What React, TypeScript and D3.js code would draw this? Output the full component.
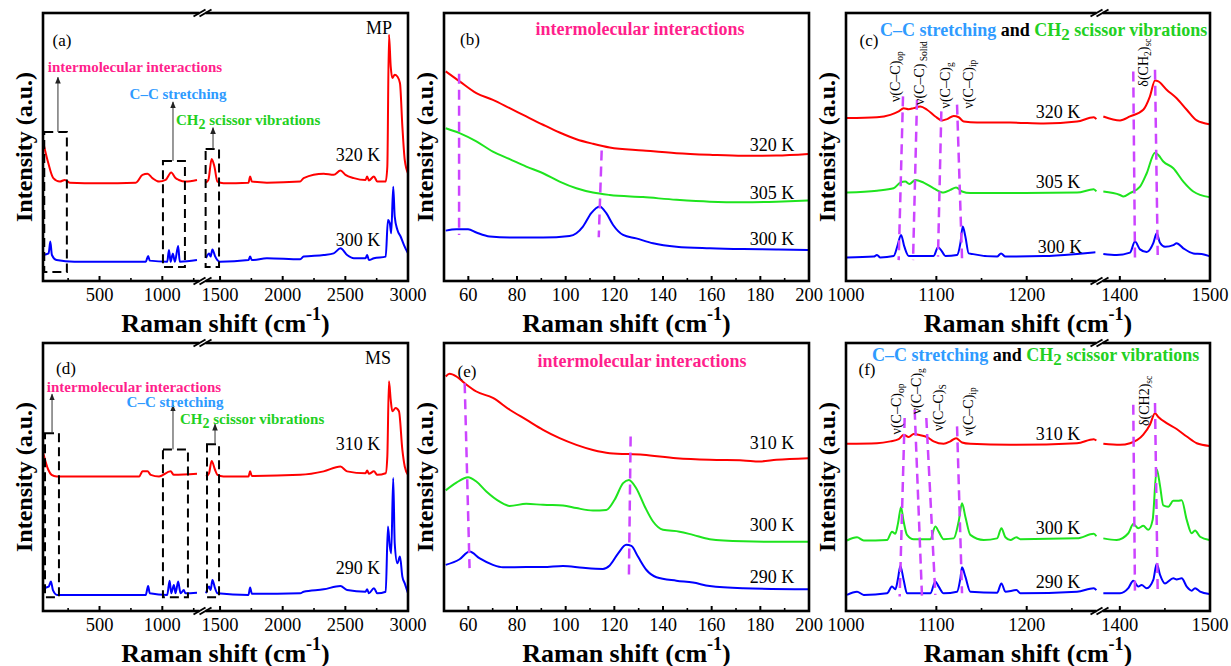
import React from "react";
import * as d3 from "d3";

type P = [number, number];

// ---------------- colours ----------------
const RED = "#ff0000";
const GREEN = "#1ee41e";
const BLUE = "#0000ff";
const MAG = "#cc44ff";
const PINK = "#ff1f8c";
const SKY = "#2f9bff";
const LIME = "#22d022";
const FONT = '"Liberation Serif", "Times New Roman", Tinos, "DejaVu Serif", serif';

// ---------------- ticks ----------------
const surveyMajor = [500, 1000, 1500, 2000, 2500, 3000];
const surveyMinor = [250, 750, 1250, 1750, 2250, 2750];
const lowMajor = [60, 80, 100, 120, 140, 160, 180, 200];
const lowMinor = [70, 90, 110, 130, 150, 170, 190];
const ccMajor = [1000, 1100, 1200, 1400, 1500];
const ccMinor = [1050, 1150, 1250, 1450];

// ---------------- series labels ----------------
const mpTemps = ["320 K", "305 K", "300 K"];
const msTemps = ["310 K", "300 K", "290 K"];

// ---------------- (a) MP survey ----------------
const mpSurvey320: P[] = [
  [50, 52.1], [92, 44.0], [132, 38.4], [184, 37.1], [224, 37.7], [263, 36.7], [500, 36.5], [789, 36.7],
  [842, 39.6], [882, 40.0], [921, 38.4], [974, 37.1], [1026, 37.7], [1071, 40.5], [1105, 38.4], [1132, 37.7],
  [1184, 37.1], [1276, 37.7],
  [1388, 36.7], [1407, 37.7], [1433, 45.5], [1455, 42.7], [1479, 37.1], [1527, 36.5], [1727, 36.7], [1740, 39.0],
  [1754, 37.1], [1874, 36.7], [2140, 37.1], [2167, 38.4], [2327, 40.0], [2407, 39.6], [2461, 41.2], [2501, 39.6],
  [2568, 38.4], [2661, 37.7], [2674, 39.0], [2688, 37.5], [2728, 39.0], [2755, 37.1], [2822, 37.1], [2835, 42.7],
  [2848, 91.9], [2862, 80.1], [2875, 75.7], [2894, 77.0], [2915, 76.3], [2936, 73.8], [2955, 57.7], [2974, 45.2],
  [3000, 40.2],
];
const mpSurvey300: P[] = [
  [50, 9.7], [95, 10.3], [108, 14.7], [121, 9.7], [158, 7.8], [300, 7.2], [500, 7.2], [868, 7.2], [887, 9.3],
  [900, 7.6], [1039, 7.2], [1053, 11.6], [1066, 7.2], [1084, 10.3], [1100, 7.2], [1126, 13.1], [1139, 7.2],
  [1276, 7.8],
  [1388, 8.5], [1412, 10.3], [1425, 9.1], [1439, 11.8], [1460, 9.3], [1479, 7.8], [1500, 7.2], [1727, 7.8],
  [1740, 9.1], [1754, 7.8], [1874, 8.5], [2140, 8.1], [2167, 9.1], [2327, 9.7], [2407, 10.3], [2461, 12.2],
  [2514, 9.7], [2568, 8.5], [2661, 8.5], [2674, 9.7], [2688, 7.8], [2728, 8.5], [2822, 9.1], [2840, 22.8],
  [2855, 21.5], [2866, 17.8], [2882, 35.2], [2894, 24.0], [2915, 19.1], [2941, 16.6], [2968, 13.4], [3000, 10.3],
];

// ---------------- (d) MS survey ----------------
const msSurvey310: P[] = [
  [50, 59.2], [92, 52.7], [118, 50.8], [158, 50.2], [500, 50.2], [816, 50.2], [842, 52.1], [882, 52.1],
  [908, 50.8], [974, 50.2], [1066, 52.1], [1092, 50.8], [1276, 51.2],
  [1388, 50.2], [1412, 51.4], [1433, 56.0], [1460, 52.7], [1479, 50.8], [1527, 50.2], [1727, 50.2], [1740, 52.1],
  [1754, 50.4], [2140, 50.8], [2327, 52.1], [2461, 53.9], [2514, 52.1], [2661, 51.4], [2674, 52.4], [2688, 51.2],
  [2728, 52.1], [2755, 50.8], [2822, 51.4], [2835, 57.7], [2848, 85.7], [2862, 78.8], [2875, 74.5], [2901, 75.7],
  [2928, 74.5], [2955, 60.1], [2974, 53.9], [3000, 50.8],
];
const msSurvey290: P[] = [
  [50, 8.5], [95, 9.1], [113, 11.0], [129, 7.8], [163, 6.0], [500, 6.0], [868, 6.0], [887, 9.3], [900, 6.6],
  [1039, 6.0], [1058, 11.3], [1071, 6.6], [1092, 9.7], [1105, 6.6], [1126, 11.0], [1145, 6.6], [1171, 7.8],
  [1184, 6.6], [1276, 6.8],
  [1388, 6.6], [1412, 9.1], [1425, 7.8], [1439, 11.6], [1460, 8.5], [1479, 6.6], [1727, 6.0], [1740, 8.8],
  [1754, 6.4], [2140, 6.6], [2167, 7.2], [2327, 8.1], [2461, 9.3], [2514, 7.8], [2661, 7.2], [2674, 8.1],
  [2688, 6.6], [2728, 8.5], [2755, 6.6], [2822, 7.2], [2840, 31.5], [2855, 24.0], [2866, 21.5], [2882, 49.6],
  [2894, 25.3], [2915, 17.8], [2936, 20.3], [2955, 12.8], [2974, 10.3], [3000, 6.6],
];

// ---------------- (b) MP low frequency ----------------
const mpLow320: P[] = [
  [50.7, 78.2], [56.4, 74.5], [63.3, 70.1], [70.1, 67.6], [77.0, 64.5], [83.8, 61.4], [90.7, 58.3], [97.5, 55.4],
  [104.4, 52.9], [111.2, 51.2], [118.1, 49.8], [131.8, 48.7], [145.5, 47.7], [159.2, 47.1], [172.9, 46.7],
  [186.6, 46.8], [199.6, 47.4],
];
const mpLow305: P[] = [
  [50.7, 57.0], [56.4, 55.2], [63.3, 52.1], [70.1, 48.3], [77.0, 45.5], [83.8, 42.7], [90.7, 40.2], [97.5, 37.1],
  [104.4, 34.6], [111.2, 33.0], [118.1, 32.1], [131.8, 31.3], [145.5, 30.3], [159.2, 29.6], [172.9, 29.4],
  [186.6, 29.6], [199.6, 30.0],
];
const mpLow300: P[] = [
  [50.7, 18.8], [55.1, 19.3], [59.9, 19.3], [63.3, 18.1], [68.8, 16.6], [77.0, 16.2], [90.7, 16.2], [101.6, 16.8],
  [104.4, 17.8], [107.1, 20.3], [110.5, 25.3], [114.0, 27.8], [116.7, 25.3], [119.5, 20.9], [123.6, 17.2],
  [129.0, 15.9], [135.9, 14.1], [145.5, 12.8], [159.2, 12.2], [172.9, 11.9], [186.6, 11.8], [199.6, 11.6],
];

// ---------------- (e) MS low frequency ----------------
const msLow310: P[] = [
  [50.7, 87.5], [52.3, 88.5], [55.1, 87.5], [58.5, 85.0], [63.3, 81.9], [70.1, 79.5], [77.0, 75.1], [83.8, 71.4],
  [90.7, 67.6], [97.5, 64.5], [104.4, 62.0], [111.2, 60.1], [118.1, 58.9], [131.8, 58.3], [145.5, 57.0],
  [159.2, 56.4], [172.9, 56.2], [179.7, 55.8], [186.6, 56.4], [199.6, 57.0],
];
const msLow300: P[] = [
  [50.7, 45.0], [55.1, 47.9], [59.9, 49.9], [63.3, 48.3], [67.4, 44.6], [72.9, 40.8], [77.0, 39.2], [83.8, 40.0],
  [90.7, 39.6], [98.9, 39.4], [104.4, 38.4], [111.2, 37.5], [116.7, 37.7], [120.1, 41.5], [123.6, 47.7],
  [126.0, 48.9], [129.0, 45.8], [132.5, 39.0], [135.9, 33.4], [140.0, 30.3], [146.8, 29.6], [152.3, 28.4],
  [159.2, 26.8], [172.9, 26.0], [186.6, 25.8], [199.6, 25.8],
];
const msLow290: P[] = [
  [50.7, 17.2], [56.4, 19.3], [60.5, 22.2], [64.7, 19.6], [70.1, 17.2], [74.2, 16.3], [83.8, 16.4], [90.7, 16.4],
  [98.9, 16.8], [107.1, 16.1], [115.3, 15.7], [118.1, 17.0], [121.5, 21.4], [124.9, 24.7], [127.0, 24.3],
  [129.7, 20.3], [133.2, 15.3], [137.3, 12.6], [145.5, 11.3], [152.3, 10.6], [159.2, 9.3], [172.9, 8.5],
  [199.6, 8.1],
];

// ---------------- (c) MP C–C / CH2 region ----------------
const mpCC320: P[] = [
  [1001.1, 60.8], [1034.3, 61.1], [1049.1, 62.0], [1058.3, 63.3], [1063.8, 64.5], [1069.4, 64.1], [1074.9, 64.5],
  [1082.3, 65.1], [1089.7, 63.9], [1098.9, 61.4], [1106.3, 59.9], [1111.8, 60.4], [1119.2, 61.6], [1124.7, 61.1],
  [1130.3, 59.5], [1145.0, 59.1], [1181.9, 59.1], [1218.8, 58.8], [1255.7, 59.5], [1274.2, 61.1], [1277.1, 60.4],
  [1381.7, 61.4], [1400.2, 59.9], [1411.3, 61.4], [1426.0, 63.9], [1433.4, 68.9], [1439.0, 74.8], [1442.7, 74.5],
  [1451.9, 71.4], [1463.0, 68.2], [1474.2, 63.9], [1485.3, 59.9], [1499.3, 58.5],
];
const mpCC305: P[] = [
  [1001.1, 33.0], [1034.3, 33.7], [1052.7, 34.6], [1060.1, 36.7], [1065.6, 37.1], [1070.1, 36.2], [1076.7, 37.7],
  [1085.9, 36.7], [1097.0, 34.6], [1108.1, 33.0], [1115.5, 34.0], [1121.8, 34.9], [1128.4, 33.4], [1137.6, 32.8],
  [1181.9, 32.8], [1255.7, 33.0], [1274.2, 34.2], [1277.1, 33.4],
  [1381.7, 33.4], [1400.2, 32.1], [1403.9, 31.5], [1411.3, 32.8], [1422.4, 35.2], [1429.8, 40.2], [1439.0, 47.9],
  [1442.7, 47.0], [1448.2, 44.6], [1459.3, 42.1], [1470.4, 37.1], [1481.5, 33.4], [1499.3, 31.3],
];
const mpCC300: P[] = [
  [1001.1, 8.8], [1030.6, 9.1], [1034.3, 9.7], [1038.0, 8.8], [1052.7, 9.3], [1057.2, 13.4], [1060.9, 17.2],
  [1064.6, 12.8], [1069.4, 9.3], [1097.0, 9.3], [1101.8, 12.6], [1106.3, 11.0], [1110.0, 9.3], [1122.9, 9.7],
  [1126.6, 14.1], [1129.2, 20.3], [1132.1, 16.6], [1135.8, 10.3], [1167.2, 9.1], [1171.6, 10.3], [1176.4, 9.1],
  [1218.8, 9.3], [1255.7, 10.1], [1276.0, 10.7],
  [1381.7, 10.1], [1396.5, 9.7], [1411.3, 10.6], [1416.8, 14.7], [1422.4, 11.8], [1429.8, 10.8], [1437.1, 14.1],
  [1440.9, 17.8], [1444.5, 14.3], [1450.1, 12.8], [1459.3, 13.4], [1463.0, 14.1], [1470.4, 12.2], [1481.5, 10.3],
  [1490.8, 10.1], [1499.3, 9.3],
];

// ---------------- (f) MS C–C / CH2 region ----------------
const msCC310: P[] = [
  [1001.1, 62.4], [1034.3, 62.6], [1049.1, 63.3], [1058.3, 64.1], [1063.8, 65.8], [1069.4, 64.9], [1074.9, 66.0],
  [1082.3, 65.6], [1089.7, 64.9], [1097.0, 63.3], [1108.1, 62.4], [1115.5, 63.3], [1121.8, 64.5], [1128.4, 62.9],
  [1137.6, 62.4], [1181.9, 62.0], [1255.7, 62.6], [1274.2, 64.1], [1277.1, 63.6],
  [1381.7, 62.4], [1400.2, 62.0], [1411.3, 62.6], [1426.0, 65.8], [1433.4, 69.5], [1439.0, 73.8], [1442.7, 72.4],
  [1451.9, 70.1], [1463.0, 67.9], [1474.2, 65.1], [1485.3, 62.6], [1499.3, 61.6],
];
const msCC300: P[] = [
  [1001.1, 26.3], [1012.2, 27.5], [1019.6, 26.3], [1045.4, 26.5], [1050.9, 29.6], [1054.6, 28.8], [1057.6, 32.8],
  [1060.9, 38.7], [1063.8, 33.4], [1067.5, 28.4], [1074.9, 26.8], [1093.3, 26.8], [1098.9, 31.5], [1102.6, 29.6],
  [1108.1, 26.8], [1119.2, 27.1], [1124.7, 33.4], [1128.4, 40.2], [1132.1, 35.2], [1137.6, 28.4], [1152.4, 26.5],
  [1167.2, 27.1], [1172.0, 30.9], [1176.4, 27.5], [1181.9, 26.5], [1188.6, 27.5], [1193.0, 26.8], [1255.7, 27.1],
  [1274.2, 28.8], [1277.1, 27.9],
  [1381.7, 27.1], [1396.5, 26.5], [1409.4, 29.0], [1414.9, 32.5], [1420.5, 30.9], [1426.0, 31.8], [1431.6, 30.3],
  [1436.4, 34.0], [1440.9, 52.9], [1444.5, 46.9], [1448.2, 39.4], [1453.8, 38.9], [1459.3, 41.1], [1464.8, 41.1],
  [1468.6, 41.3], [1474.2, 34.0], [1479.7, 29.0], [1483.4, 30.0], [1489.0, 27.7], [1499.3, 26.5],
];
const msCC290: P[] = [
  [1001.1, 6.0], [1012.2, 7.2], [1019.6, 6.0], [1045.4, 6.6], [1050.9, 9.1], [1054.6, 8.1], [1057.6, 12.2],
  [1060.1, 16.8], [1063.8, 11.6], [1067.5, 6.6], [1093.3, 6.6], [1098.9, 11.0], [1102.6, 9.1], [1108.1, 6.6],
  [1122.9, 7.2], [1126.6, 12.2], [1128.4, 16.3], [1132.1, 12.8], [1137.6, 7.2], [1167.2, 6.8], [1172.0, 10.3],
  [1176.4, 7.2], [1188.6, 7.8], [1193.0, 6.6], [1255.7, 7.2], [1274.2, 8.5], [1277.1, 7.8],
  [1381.7, 6.6], [1400.2, 6.6], [1409.4, 8.5], [1414.9, 11.3], [1420.5, 9.1], [1424.2, 9.7], [1429.8, 8.5],
  [1437.1, 11.6], [1440.9, 17.6], [1444.5, 13.6], [1450.1, 10.3], [1459.3, 12.2], [1463.0, 11.8], [1468.6, 12.2],
  [1474.2, 9.1], [1479.7, 7.6], [1483.4, 8.5], [1489.0, 7.2], [1499.3, 6.3],
];

// ---------------- guide lines (magenta dashed), [x1,v1,x2,v2] ----------------
const mpLowGuides = [[56.2, 77.3, 56.2, 17.2], [114.8, 48.7, 113.6, 16.3]];
const msLowGuides = [[58.5, 85.0, 60.5, 16.0], [126.7, 65.1, 126.0, 13.4]];
const mpCCGuides = [
  [1063.1, 68.9, 1058.3, 7.8], [1078.6, 67.6, 1074.2, 7.8], [1105.5, 63.3, 1101.8, 9.1],
  [1122.9, 65.8, 1128.4, 8.5], [1414.9, 78.2, 1416.8, 8.5], [1439.0, 78.8, 1442.0, 9.7],
];
const msCCGuides = [
  [1064.9, 72.0, 1059.4, 5.4], [1076.0, 75.1, 1084.1, 5.4], [1088.9, 72.0, 1098.9, 6.0],
  [1122.9, 68.9, 1128.4, 6.6], [1414.9, 77.0, 1416.8, 6.6], [1439.0, 77.6, 1442.0, 6.6],
];

// ---------------- dashed boxes [x0,x1,v0,v1] and arrows [x, vFrom, vTo] ----------------
const mpBoxes = [[60, 240, 3.4, 55.6], [1005, 1180, 5.2, 44.8], [1385, 1492, 5.2, 49.3]];
const mpArrows = [[169, 55.6, 76], [1085, 44.8, 66.8], [1444, 49.3, 57.2]];
const msBoxes = [[66, 177, 5.1, 66.3], [1005, 1204, 5.1, 60.3], [1396, 1492, 5.1, 62.2]];
const msArrows = [[122, 66.3, 80.9], [1085, 60.3, 76.8], [1460, 62.2, 69.7]];

// ---------------- layout ----------------
const COLS = [{ l: 43, r: 408 }, { l: 444, r: 809 }, { l: 846, r: 1210 }];
const ROWS = [{ t: 13, b: 281 }, { t: 343, b: 611 }];

type Scale = (v: number) => number;

function makeX(kind: string, l: number, r: number): { x: Scale; brk: [number, number] | null } {
  if (kind === "survey") {
    return { x: d3.scaleLinear().domain([50, 1300, 1380, 3000]).range([l, l + 157, l + 162, r]), brk: [1300, 1380] };
  }
  if (kind === "cc") {
    return { x: d3.scaleLinear().domain([1000, 1280, 1378, 1500]).range([l, l + 253, l + 254, r]), brk: [1280, 1378] };
  }
  return { x: d3.scaleLinear().domain([50, 200]).range([l, r]), brk: null };
}

function Sub({ children, size, dy }: { children: React.ReactNode; size: number; dy: number }) {
  return <tspan dy={dy} fontSize={size}>{children}</tspan>;
}

function Panel(props: {
  col: number; row: number; kind: string; series: { data: P[]; color: string }[];
  major: number[]; minor: number[]; guides?: number[][];
  boxes?: number[][]; arrows?: number[][]; children?: (x: Scale, y: Scale) => React.ReactNode;
}) {
  const { l, r } = COLS[props.col];
  const { t, b } = ROWS[props.row];
  const { x, brk } = makeX(props.kind, l, r);
  const y = d3.scaleLinear().domain([0, 100]).range([b, t]);
  const line = d3.line<P>().x((d) => x(d[0])).y((d) => y(d[1])).curve(d3.curveMonotoneX);
  const split = (data: P[]) => (brk ? [data.filter((d) => d[0] <= brk[0]), data.filter((d) => d[0] >= brk[1])] : [data]);
  const bx = brk ? (x(brk[0]) + x(brk[1])) / 2 : 0;
  return (
    <g>
      {props.series.map((s, i) =>
        split(s.data).map((seg, j) => (
          <path key={`${i}-${j}`} d={line(seg) || ""} fill="none" stroke={s.color} strokeWidth={2} strokeLinejoin="round" />
        ))
      )}
      {(props.guides || []).map((g, i) => (
        <line key={`g${i}`} x1={x(g[0])} y1={y(g[1])} x2={x(g[2])} y2={y(g[3])} stroke={MAG} strokeWidth={2.5} strokeDasharray="10 6" />
      ))}
      {(props.boxes || []).map((bb, i) => (
        <rect key={`b${i}`} x={x(bb[0])} y={y(bb[3])} width={x(bb[1]) - x(bb[0])} height={y(bb[2]) - y(bb[3])}
          fill="none" stroke="#000" strokeWidth={2} strokeDasharray="9 5" />
      ))}
      {(props.arrows || []).map((a, i) => (
        <line key={`a${i}`} x1={x(a[0])} y1={y(a[1])} x2={x(a[0])} y2={y(a[2])} stroke="#333" strokeWidth={1} markerEnd="url(#arr)" />
      ))}
      <rect x={l} y={t} width={r - l} height={b - t} fill="none" stroke="#000" strokeWidth={2.6} />
      {props.major.map((v) => (
        <g key={`M${v}`}>
          <line x1={x(v)} x2={x(v)} y1={b} y2={b - 5} stroke="#000" strokeWidth={2} />
          <text x={x(v)} y={b + 14} textAnchor="middle" dominantBaseline="central" fontSize={18.5}>{v}</text>
        </g>
      ))}
      {props.minor.map((v) => (
        <line key={`m${v}`} x1={x(v)} x2={x(v)} y1={b} y2={b - 3} stroke="#000" strokeWidth={1.6} />
      ))}
      {brk && [t, b].map((yy) => (
        <g key={`br${yy}`}>
          <rect x={bx - 3} y={yy - 3} width={6} height={6} fill="#fff" />
          {[-3, 3].map((o) => (
            <line key={o} x1={bx + o - 6} y1={yy + 3.5} x2={bx + o + 6} y2={yy - 3.5} stroke="#000" strokeWidth={2} />
          ))}
        </g>
      ))}
      <text x={(l + r) / 2} y={b + 42} textAnchor="middle" dominantBaseline="central" fontSize={26} fontWeight="bold">
        Raman shift (cm<tspan dy={-9} fontSize={18}>-1</tspan><tspan dy={9}>)</tspan>
      </text>
      <text transform={`translate(${l - 19},${(t + b) / 2}) rotate(-90)`} textAnchor="middle" dy="0.35em" fontSize={24} fontWeight="bold">
        Intensity (a.u.)
      </text>
      {props.children && props.children(x, y)}
    </g>
  );
}

function T(p: { x: number; y: number; children: React.ReactNode; size?: number; anchor?: string; bold?: boolean; fill?: string }) {
  return (
    <text x={p.x} y={p.y} fontSize={p.size || 18} textAnchor={p.anchor || "middle"} dominantBaseline="central"
      fontWeight={p.bold ? "bold" : "normal"} fill={p.fill || "#000"} style={{ whiteSpace: "pre" }}>
      {p.children}
    </text>
  );
}

function VLabel({ x, y, main, sub, size = 14 }: { x: number; y: number; main: React.ReactNode; sub: string; size?: number }) {
  return (
    <text transform={`translate(${x},${y}) rotate(-90)`} fontSize={size} style={{ whiteSpace: "pre" }}>
      {main}<tspan dy={3} fontSize={9.5}>{sub}</tspan>
    </text>
  );
}

function CCTitle({ x, y }: { x: number; y: number }) {
  return (
    <text x={x} y={y} fontSize={18} fontWeight="bold" dominantBaseline="central" style={{ whiteSpace: "pre" }}>
      <tspan fill={SKY}>C–C stretching</tspan>
      <tspan fill="#000"> and </tspan>
      <tspan fill={LIME}>CH</tspan>
      <tspan fill={LIME} dy={4} fontSize={17}>2</tspan>
      <tspan fill={LIME} dy={-4}> scissor vibrations</tspan>
    </text>
  );
}

export default function App() {
  return (
    <svg width={1231} height={666} style={{ position: "absolute", left: 0, top: 0, background: "#fff", fontFamily: FONT }}>
      <defs>
        <marker id="arr" viewBox="0 0 10 10" refX="9" refY="5" markerWidth="7" markerHeight="7" orient="auto">
          <path d="M0,1 L10,5 L0,9 z" fill="#222" />
        </marker>
      </defs>

      {/* (a) */}
      <Panel col={0} row={0} kind="survey" major={surveyMajor} minor={surveyMinor}
        series={[{ data: mpSurvey320, color: RED }, { data: mpSurvey300, color: BLUE }]}
        boxes={mpBoxes} arrows={mpArrows}>
        {() => (
          <g>
            <T x={62} y={40} size={17}>(a)</T>
            <T x={379} y={28}>MP</T>
            <T x={358} y={155}>{mpTemps[0]}</T>
            <T x={358} y={240}>{mpTemps[2]}</T>
            <T x={135} y={67} size={15} bold fill={PINK}>intermolecular interactions</T>
            <T x={178} y={94} size={15} bold fill={SKY}>C–C stretching</T>
            <T x={176} y={120} size={15} bold fill={LIME} anchor="start">
              CH<Sub size={14} dy={4}>2</Sub><tspan dy={-4}> scissor vibrations</tspan>
            </T>
          </g>
        )}
      </Panel>

      {/* (b) */}
      <Panel col={1} row={0} kind="low" major={lowMajor} minor={lowMinor}
        series={[{ data: mpLow320, color: RED }, { data: mpLow305, color: GREEN }, { data: mpLow300, color: BLUE }]}
        guides={mpLowGuides}>
        {() => (
          <g>
            <T x={640} y={29} size={18} bold fill={PINK}>intermolecular interactions</T>
            <T x={470} y={39} size={17}>(b)</T>
            <T x={772} y={145}>{mpTemps[0]}</T>
            <T x={772} y={193}>{mpTemps[1]}</T>
            <T x={772} y={239}>{mpTemps[2]}</T>
          </g>
        )}
      </Panel>

      {/* (c) */}
      <Panel col={2} row={0} kind="cc" major={ccMajor} minor={ccMinor}
        series={[{ data: mpCC320, color: RED }, { data: mpCC305, color: GREEN }, { data: mpCC300, color: BLUE }]}
        guides={mpCCGuides}>
        {(x, y) => (
          <g>
            <CCTitle x={880} y={30} />
            <T x={869} y={40} size={17}>(c)</T>
            <T x={1058} y={112}>{mpTemps[0]}</T>
            <T x={1058} y={182}>{mpTemps[1]}</T>
            <T x={1060} y={247}>{mpTemps[2]}</T>
            <VLabel x={x(1059.8)} y={y(66.8)} main="ν(C–C)" sub="op" />
            <VLabel x={x(1086.7)} y={y(65.7)} main="ν(C–C)" sub=" Solid" />
            <VLabel x={x(1115.1)} y={y(64.4)} main="ν(C–C)" sub="g" />
            <VLabel x={x(1140.9)} y={y(64.4)} main="ν(C–C)" sub="ip" />
            <VLabel x={x(1430.9)} y={y(72.5)} main={<>δ(CH<tspan dy={3} fontSize={9.5}>2</tspan><tspan dy={-3}>)</tspan></>} sub="sc" />
          </g>
        )}
      </Panel>

      {/* (d) */}
      <Panel col={0} row={1} kind="survey" major={surveyMajor} minor={surveyMinor}
        series={[{ data: msSurvey310, color: RED }, { data: msSurvey290, color: BLUE }]}
        boxes={msBoxes} arrows={msArrows}>
        {() => (
          <g>
            <T x={66} y={368} size={17}>(d)</T>
            <T x={378} y={358}>MS</T>
            <T x={358} y={444}>{msTemps[0]}</T>
            <T x={358} y={568}>{msTemps[2]}</T>
            <T x={134} y={387} size={15} bold fill={PINK}>intermolecular interactions</T>
            <T x={175} y={402} size={15} bold fill={SKY}>C–C stretching</T>
            <T x={180} y={419} size={15} bold fill={LIME} anchor="start">
              CH<Sub size={14} dy={4}>2</Sub><tspan dy={-4}> scissor vibrations</tspan>
            </T>
          </g>
        )}
      </Panel>

      {/* (e) */}
      <Panel col={1} row={1} kind="low" major={lowMajor} minor={lowMinor}
        series={[{ data: msLow310, color: RED }, { data: msLow300, color: GREEN }, { data: msLow290, color: BLUE }]}
        guides={msLowGuides}>
        {() => (
          <g>
            <T x={642} y={361} size={18} bold fill={PINK}>intermolecular interactions</T>
            <T x={467} y={371} size={17}>(e)</T>
            <T x={772} y={443}>{msTemps[0]}</T>
            <T x={772} y={525}>{msTemps[1]}</T>
            <T x={772} y={577}>{msTemps[2]}</T>
          </g>
        )}
      </Panel>

      {/* (f) */}
      <Panel col={2} row={1} kind="cc" major={ccMajor} minor={ccMinor}
        series={[{ data: msCC310, color: RED }, { data: msCC300, color: GREEN }, { data: msCC290, color: BLUE }]}
        guides={msCCGuides}>
        {(x, y) => (
          <g>
            <CCTitle x={872} y={355} />
            <T x={867} y={369} size={17}>(f)</T>
            <T x={1058} y={434}>{msTemps[0]}</T>
            <T x={1058} y={528}>{msTemps[1]}</T>
            <T x={1058} y={582}>{msTemps[2]}</T>
            <VLabel x={x(1060.9)} y={y(65.9)} main="ν(C–C)" sub="op" />
            <VLabel x={x(1083)} y={y(73.4)} main="ν(C–C)" sub="g" />
            <VLabel x={x(1107.7)} y={y(67.2)} main="ν(C–C)" sub="S" />
            <VLabel x={x(1140.9)} y={y(65.3)} main="ν(C–C)" sub="ip" />
            <VLabel x={x(1432.3)} y={y(69.0)} main="δ(CH2)" sub="sc" />
          </g>
        )}
      </Panel>
    </svg>
  );
}
